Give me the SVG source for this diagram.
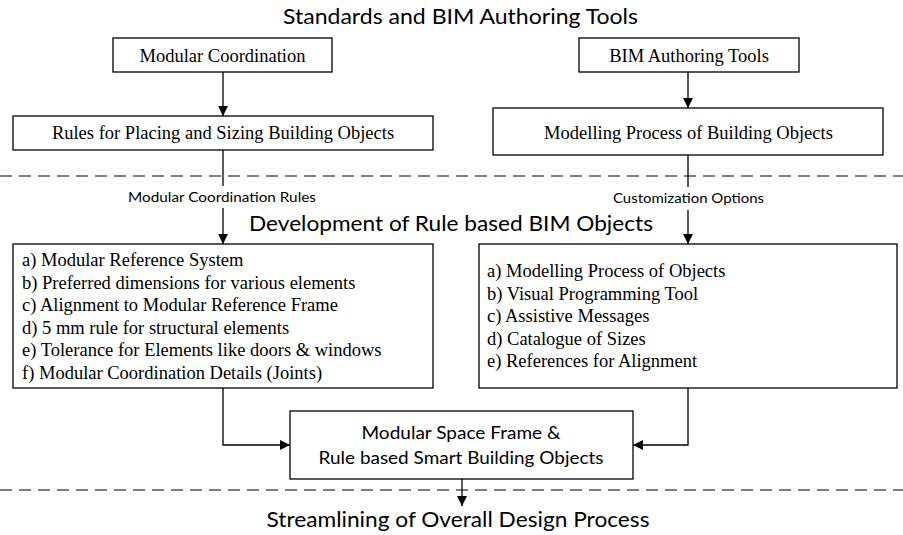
<svg xmlns="http://www.w3.org/2000/svg" width="903" height="535" viewBox="0 0 903 535">
<defs>
<style>
.box{fill:#fff;stroke:#000;stroke-width:1.3}
.serif{font-family:"Liberation Serif","Times New Roman",serif;font-size:18.5px;fill:#000}
.sans{font-family:Lato,"Open Sans",sans-serif;fill:#000}
.title{font-size:22px}
.lbl{font-size:13.5px}
.mid{font-size:16.5px}
.conn{fill:none;stroke:#000;stroke-width:1.3}
.dash{fill:none;stroke:#000;stroke-width:1.2;stroke-dasharray:12 7}
</style>
<marker id="arr" markerUnits="userSpaceOnUse" markerWidth="10" markerHeight="10" refX="10" refY="5" orient="auto">
<path d="M0,0 L10,5 L0,10 z" fill="#000"/>
</marker>
</defs>
<rect width="903" height="535" fill="#fff"/>

<g id="sections">
<text class="sans title" x="460.5" y="24" text-anchor="middle" textLength="355" lengthAdjust="spacingAndGlyphs">Standards and BIM Authoring Tools</text>
<line class="dash" x1="0" y1="176" x2="903" y2="176"/>
<text class="sans title" x="451" y="230.5" text-anchor="middle" textLength="404" lengthAdjust="spacingAndGlyphs">Development of Rule based BIM Objects</text>
<line class="dash" x1="0" y1="490" x2="903" y2="490"/>
<text class="sans title" x="458" y="527" text-anchor="middle" textLength="383" lengthAdjust="spacingAndGlyphs">Streamlining of Overall Design Process</text>
</g>

<g id="connectors">
<path class="conn" d="M223,72 V116" marker-end="url(#arr)"/>
<path class="conn" d="M688,72 V108" marker-end="url(#arr)"/>
<path class="conn" d="M223,150 V186"/>
<path class="conn" d="M223,208 V244" marker-end="url(#arr)"/>
<path class="conn" d="M688,155 V187"/>
<path class="conn" d="M688,210 V244" marker-end="url(#arr)"/>
<path class="conn" d="M223,388 V445 H290" marker-end="url(#arr)"/>
<path class="conn" d="M688,388 V445 H633" marker-end="url(#arr)"/>
<path class="conn" d="M462,479 V506" marker-end="url(#arr)"/>
<text class="sans lbl" x="222" y="202" text-anchor="middle" textLength="188" lengthAdjust="spacingAndGlyphs">Modular Coordination Rules</text>
<text class="sans lbl" x="688.5" y="203" text-anchor="middle" textLength="151" lengthAdjust="spacingAndGlyphs">Customization Options</text>
</g>

<g id="modular-coordination">
<rect class="box" x="113" y="38" width="219" height="34"/>
<text class="serif" x="222.5" y="61.5" text-anchor="middle">Modular Coordination</text>
</g>

<g id="bim-authoring-tools">
<rect class="box" x="579" y="38" width="220" height="34"/>
<text class="serif" x="689" y="61.5" text-anchor="middle">BIM Authoring Tools</text>
</g>

<g id="rules-placing">
<rect class="box" x="13" y="116" width="420" height="34"/>
<text class="serif" x="223" y="139" text-anchor="middle">Rules for Placing and Sizing Building Objects</text>
</g>

<g id="modelling-process">
<rect class="box" x="493" y="108" width="390" height="47"/>
<text class="serif" x="688.5" y="138.5" text-anchor="middle">Modelling Process of Building Objects</text>
</g>

<g id="rules-list">
<rect class="box" x="13" y="244" width="420" height="144"/>
<text class="serif" x="22" y="266">a) Modular Reference System</text>
<text class="serif" x="22" y="288.5">b) Preferred dimensions for various elements</text>
<text class="serif" x="22" y="311">c) Alignment to Modular Reference Frame</text>
<text class="serif" x="22" y="333.5">d) 5 mm rule for structural elements</text>
<text class="serif" x="22" y="356">e) Tolerance for Elements like doors &amp; windows</text>
<text class="serif" x="22" y="378.5">f) Modular Coordination Details (Joints)</text>
</g>

<g id="options-list">
<rect class="box" x="479" y="244" width="418" height="144"/>
<text class="serif" x="487" y="277">a) Modelling Process of Objects</text>
<text class="serif" x="487" y="299.5">b) Visual Programming Tool</text>
<text class="serif" x="487" y="322">c) Assistive Messages</text>
<text class="serif" x="487" y="344.5">d) Catalogue of Sizes</text>
<text class="serif" x="487" y="367">e) References for Alignment</text>
</g>

<g id="space-frame">
<rect class="box" x="290" y="411" width="343" height="68"/>
<text class="sans mid" x="461" y="438.5" text-anchor="middle" textLength="199" lengthAdjust="spacingAndGlyphs">Modular Space Frame &amp;</text>
<text class="sans mid" x="461" y="463.5" text-anchor="middle" textLength="285" lengthAdjust="spacingAndGlyphs">Rule based Smart Building Objects</text>
</g>
</svg>
